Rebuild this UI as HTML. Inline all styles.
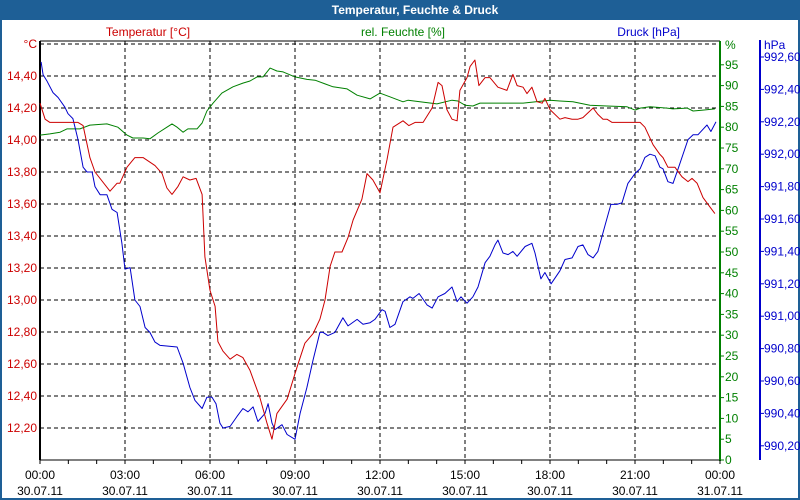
<!DOCTYPE html>
<html><head><meta charset="utf-8"><style>
html,body{margin:0;padding:0;background:#fff}
svg{display:block;font-family:"Liberation Sans",sans-serif}
</style></head><body>
<svg id="c" width="800" height="500" xmlns="http://www.w3.org/2000/svg">
<rect x="0" y="0" width="800" height="500" fill="#1e5f96"/>
<rect x="2" y="20" width="796" height="478" fill="#fff"/>
<text x="415" y="14" fill="#fff" font-weight="bold" font-size="12" text-anchor="middle">Temperatur, Feuchte &amp; Druck</text>
<text x="148" y="36" fill="#cc0000" font-size="12" text-anchor="middle">Temperatur [°C]</text>
<text x="403" y="36" fill="#008000" font-size="12" text-anchor="middle">rel. Feuchte [%]</text>
<text x="680" y="36" fill="#0000cc" font-size="12" text-anchor="end">Druck [hPa]</text>
<g id="grid"></g><g id="axes"></g><g id="series"></g>
</svg>
<script>
const tempH=[0,0.18,0.35,1.34,1.52,1.76,1.94,2.47,2.72,2.82,3.07,3.35,3.64,4.06,4.31,4.48,4.66,4.87,5.05,5.29,5.51,5.72,5.82,6.00,6.18,6.28,6.46,6.71,6.95,7.16,7.41,7.76,8.01,8.19,8.36,8.72,9.07,9.35,9.64,9.88,10.06,10.24,10.41,10.66,10.87,11.05,11.36,11.54,11.75,12.00,12.25,12.46,12.81,13.02,13.24,13.52,13.84,14.05,14.19,14.36,14.54,14.72,14.82,15.07,15.18,15.35,15.49,15.71,15.88,16.16,16.48,16.69,16.84,17.05,17.19,17.36,17.54,17.72,17.82,18.00,18.35,18.53,18.78,18.99,19.16,19.52,19.69,19.87,20.01,20.19,21.18,21.35,21.64,21.88,21.99,22.16,22.41,22.66,22.87,23.01,23.19,23.40,23.65,23.82];
const tempV=[14.23,14.13,14.11,14.11,14.09,13.89,13.80,13.68,13.73,13.73,13.83,13.89,13.89,13.84,13.79,13.70,13.66,13.71,13.77,13.75,13.76,13.66,13.27,13.06,12.96,12.74,12.68,12.63,12.66,12.64,12.56,12.39,12.23,12.13,12.29,12.38,12.58,12.73,12.79,12.88,13.00,13.21,13.30,13.30,13.39,13.50,13.63,13.79,13.75,13.67,13.88,14.08,14.12,14.09,14.11,14.11,14.20,14.36,14.34,14.19,14.13,14.12,14.31,14.39,14.46,14.50,14.34,14.39,14.39,14.33,14.31,14.41,14.34,14.33,14.29,14.33,14.24,14.23,14.26,14.19,14.13,14.14,14.13,14.13,14.14,14.20,14.16,14.13,14.13,14.11,14.11,14.08,13.97,13.91,13.89,13.83,13.83,13.77,13.74,13.76,13.73,13.64,13.58,13.54];
const humH=[0,0.35,0.71,0.95,1.41,1.76,2.36,2.75,3.07,3.28,3.64,3.88,4.16,4.48,4.66,4.84,5.05,5.22,5.54,5.72,5.89,6.11,6.42,6.81,7.16,7.41,7.66,7.87,8.12,8.36,8.58,9.00,9.42,9.71,10.06,10.34,10.84,11.19,11.65,12.00,12.35,12.81,12.99,13.41,14.01,14.54,14.75,15.00,15.28,15.53,16.13,17.05,18.00,18.35,18.81,19.41,20.01,20.72,21.00,21.18,21.53,22.13,22.34,22.84,23.05,23.40,23.82];
const humV=[78.1,78.4,78.8,79.6,79.6,80.5,80.8,80.0,78.1,77.4,77.4,77.2,78.6,80.0,80.8,80.0,78.8,79.6,79.6,81.0,83.9,85.8,88.2,89.7,90.6,91.1,92.1,92.1,94.2,93.5,93.3,92.1,91.5,91.3,90.4,89.7,89.2,87.7,86.8,88.2,87.3,86.1,86.5,86.1,85.6,86.5,86.3,85.3,85.1,85.8,85.8,85.8,86.5,86.3,86.1,85.3,85.1,84.9,84.1,84.6,84.9,84.6,84.4,84.6,83.9,84.1,84.4];
const presH=[0.04,0.11,0.25,0.46,0.64,0.88,0.99,1.16,1.34,1.52,1.66,1.84,1.94,2.12,2.36,2.54,2.72,2.89,3.00,3.18,3.35,3.53,3.71,3.88,4.06,4.24,4.84,5.05,5.29,5.47,5.72,5.89,6.07,6.21,6.35,6.46,6.71,6.95,7.16,7.34,7.52,7.69,7.94,8.05,8.19,8.29,8.54,8.72,9.00,9.18,9.42,9.64,9.88,9.99,10.16,10.41,10.69,10.87,11.19,11.40,11.65,11.82,12.07,12.18,12.35,12.53,12.81,13.06,13.16,13.38,13.66,13.84,14.05,14.29,14.54,14.72,14.86,15.07,15.28,15.46,15.71,15.88,16.06,16.16,16.34,16.52,16.69,16.84,17.12,17.36,17.47,17.68,17.82,18.04,18.35,18.53,18.78,18.99,19.16,19.34,19.52,19.69,19.94,20.15,20.36,20.54,20.75,21.00,21.18,21.35,21.53,21.71,21.88,21.99,22.16,22.34,22.52,22.87,23.05,23.22,23.54,23.68,23.86];
const presV=[992.57,992.49,992.45,992.38,992.35,992.29,992.25,992.22,992.09,991.92,991.89,991.89,991.80,991.75,991.75,991.66,991.64,991.45,991.29,991.30,991.10,991.06,990.93,990.90,990.84,990.82,990.81,990.71,990.56,990.48,990.43,990.50,990.50,990.46,990.34,990.31,990.32,990.38,990.43,990.41,990.44,990.35,990.40,990.46,990.34,990.30,990.33,990.27,990.24,990.40,990.56,990.73,990.90,990.90,990.88,990.90,990.99,990.94,990.98,990.95,990.96,990.98,991.04,991.03,990.93,990.95,991.09,991.12,991.11,991.14,991.07,991.05,991.12,991.14,991.18,991.09,991.12,991.08,991.12,991.18,991.33,991.37,991.44,991.47,991.39,991.38,991.40,991.37,991.43,991.45,991.39,991.23,991.27,991.20,991.28,991.35,991.36,991.43,991.44,991.38,991.36,991.40,991.56,991.69,991.69,991.70,991.82,991.88,991.91,991.98,992.00,991.99,991.92,991.91,991.83,991.82,991.91,992.09,992.12,992.12,992.18,992.14,992.20];
const tempTicks=["12,00","12,20","12,40","12,60","12,80","13,00","13,20","13,40","13,60","13,80","14,00","14,20","14,40"];
const humTicks=["0","5","10","15","20","25","30","35","40","45","50","55","60","65","70","75","80","85","90","95"];
const presTicks=["990,20","990,40","990,60","990,80","991,00","991,20","991,40","991,60","991,80","992,00","992,20","992,40","992,60"];
const timeLabels=["00:00","03:00","06:00","09:00","12:00","15:00","18:00","21:00","00:00"];
const dateLabels=["30.07.11","30.07.11","30.07.11","30.07.11","30.07.11","30.07.11","30.07.11","30.07.11","31.07.11"];

const L=40,R=720,T=44,B=460;
const xS=h=>L+h*(R-L)/24;
const yT=v=>B-(v-12.0)*(B-T)/2.6;
const yH=v=>B-v*(B-T)/100;
const yP=v=>57+(992.60-v)*32.4/0.2;
const NS="http://www.w3.org/2000/svg";
function mk(tag,attrs,parent,text){const e=document.createElementNS(NS,tag);for(const k in attrs)e.setAttribute(k,attrs[k]);if(text!==undefined)e.textContent=text;parent.appendChild(e);return e;}
const grid=document.getElementById('grid'),axes=document.getElementById('axes'),ser=document.getElementById('series');

for(let i=0;i<=13;i++){const y=T+i*32;
 const g=mk('line',{x1:L,x2:R,y1:y,y2:y,stroke:'#000','stroke-dasharray':'4,3','stroke-width':1},grid);
 
 }
for(let i=1;i<8;i++){const x=xS(i*3);
 const g=mk('line',{x1:x,x2:x,y1:T-3,y2:B,stroke:'#000','stroke-dasharray':'4,3','stroke-width':1},grid);
 
 }
let f=mk('line',{x1:L,x2:L,y1:41,y2:B,stroke:'#000','stroke-width':2},axes);


f=mk('line',{x1:L,x2:R,y1:41,y2:41,stroke:'#000','stroke-width':1},axes);


f=mk('line',{x1:L,x2:R,y1:B,y2:B,stroke:'#000','stroke-width':1},axes);


f=mk('line',{x1:R,x2:R,y1:41,y2:B+1,stroke:'#008000','stroke-width':2},axes);


f=mk('line',{x1:760,x2:760,y1:40,y2:B,stroke:'#0000cc','stroke-width':2},axes);



tempTicks.forEach(s=>{const v=parseFloat(s.replace(',','.'));const y=yT(v);
 if(Math.abs(v-12.0)<1e-6)return;
 const t=mk('text',{x:37,y:y+4,fill:'#cc0000','font-size':12,'text-anchor':'end'},axes,s);
 
 });
let u=mk('text',{x:37,y:T+4,fill:'#cc0000','font-size':12,'text-anchor':'end'},axes,'°C');


humTicks.forEach(s=>{const y=yH(+s);
 const tk=mk('line',{x1:R,x2:R+4,y1:y,y2:y,stroke:'#008000'},axes);
 
 
 const t=mk('text',{x:R+5,y:y+4,fill:'#008000','font-size':12},axes,s);
 
 });
u=mk('text',{x:R+5,y:T+5,fill:'#008000','font-size':12},axes,'%');


presTicks.forEach(s=>{const y=yP(parseFloat(s.replace(',','.')));
 const tk=mk('line',{x1:760,x2:764,y1:y,y2:y,stroke:'#0000cc'},axes);
 
 
 const t=mk('text',{x:764,y:y+4,fill:'#0000cc','font-size':12},axes,s);
 
 });
u=mk('text',{x:764,y:49,fill:'#0000cc','font-size':12},axes,'hPa');


for(let h=0;h<=24;h++){const x=xS(h);
 const tk=mk('line',{x1:x,x2:x,y1:B,y2:B+4,stroke:'#000'},axes);
 
 }
timeLabels.forEach((s,i)=>{const x=xS(i*3);
 const t=mk('text',{x:x,y:479,fill:'#000','font-size':12,'text-anchor':'middle'},axes,s);
 
 
 const d=mk('text',{x:x,y:495,fill:'#000','font-size':12,'text-anchor':'middle'},axes,dateLabels[i]);
 
 });

function line(hs,vs,ys,col,name){const pts=hs.map((h,i)=>xS(h).toFixed(1)+','+ys(vs[i]).toFixed(1)).join(' ');
 const p=mk('polyline',{points:pts,fill:'none',stroke:col,'stroke-width':1,'stroke-linejoin':'round'},ser);
 
 }
line(humH,humV,yH,'#008000','humidity-line');
line(presH,presV,yP,'#0000cc','pressure-line');
line(tempH,tempV,yT,'#cc0000','temperature-line');
</script>
</body></html>
